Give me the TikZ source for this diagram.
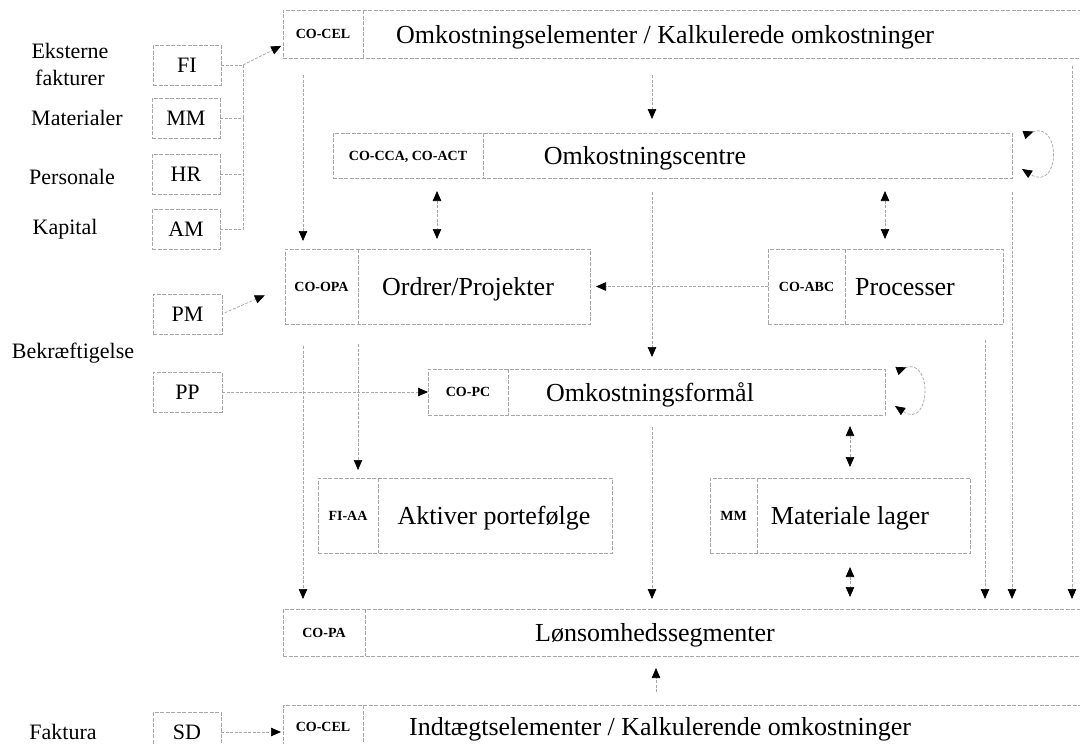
\documentclass[tikz,border=0pt]{standalone}
\usepackage{fontspec}
\setmainfont{Liberation Serif}
\usetikzlibrary{arrows.meta}
\newcommand{\sapbox}[9]{%
  \node[boxst, minimum width={#4-#2}, minimum height={#5-#3}, anchor=north west] (#1) at (#2,#3) {};
  \draw[divst] (#6,#3) -- (#6,#5);
  \node[code] (#1-code) at ({(#2+#6)/2},{(#3+#5)/2+4.5}) {#7};
  \node[title] (#1-title) at (#9,{(#3+#5)/2+9}) {#8};
}
\begin{document}
\begin{tikzpicture}[x=1pt,y=-1pt,
  boxst/.style={rectangle, draw=gray!70, line width=0.7pt, dash pattern=on 4pt off 1.5pt, inner sep=0pt, outer sep=0pt},
  divst/.style={draw=gray!70, line width=0.6pt, dash pattern=on 4pt off 1.5pt},
  ln/.style={draw=gray!70, line width=0.7pt, dash pattern=on 3pt off 1.5pt},
  arr/.style={ln, -{Triangle[length=10pt,width=8.5pt,color=black]}},
  darr/.style={ln, {Triangle[length=10pt,width=8.5pt,color=black]}-{Triangle[length=10pt,width=8.5pt,color=black]}},
  loopst/.style={ln, {Triangle[reversed,length=10pt,width=8.5pt,color=black]}-{Triangle[length=10pt,width=8.5pt,color=black]}},
  code/.style={font=\fontsize{14}{14}\selectfont\bfseries, inner sep=0pt, anchor=base},
  title/.style={font=\fontsize{26}{28}\selectfont, inner sep=0pt, anchor=base},
  lab/.style={font=\fontsize{22}{27}\selectfont, inner sep=0pt, align=center},
  sbox/.style={boxst, anchor=north west, minimum width=68pt, minimum height=40pt, font=\fontsize{22}{24}\selectfont},
]
\clip (0,0) rectangle (1080,744);
\path[use as bounding box] (0,0) rectangle (1080,744);

% x positions of vertical connectors
\coordinate (bus) at (243,0);
\coordinate (x303) at (303,0);
\coordinate (x358) at (358,0);
\coordinate (x437) at (437,0);
\coordinate (x652) at (652,0);
\coordinate (x656) at (656,0);
\coordinate (x850) at (850,0);
\coordinate (x885) at (885,0);
\coordinate (x985) at (985,0);
\coordinate (x1012) at (1012,0);
\coordinate (x1072) at (1072,0);

% main boxes
\sapbox{cel}{283}{10}{1090}{58}{363}{CO-CEL}{Omkostningselementer / Kalkulerede omkostninger}{665}
\sapbox{cc}{333}{133}{1012}{178}{483}{CO-CCA, CO-ACT}{Omkostningscentre}{645}
\sapbox{ord}{285}{249}{590}{324}{358}{CO-OPA}{Ordrer/Projekter}{468}
\sapbox{proc}{768}{249}{1003}{324}{845}{CO-ABC}{Processer}{905}
\sapbox{pc}{428}{369}{885}{415}{508}{CO-PC}{Omkostningsformål}{650}
\sapbox{aa}{318}{478}{612}{553}{378}{FI-AA}{Aktiver portefølge}{494}
\sapbox{mm}{710}{478}{970}{553}{757}{MM}{Materiale lager}{850}
\sapbox{pa}{283}{609}{1090}{656}{365}{CO-PA}{Lønsomhedssegmenter}{655}
\sapbox{inc}{283}{705}{1090}{748}{363}{CO-CEL}{Indtægtselementer / Kalkulerende omkostninger}{660}

% small source boxes
\node[sbox] (fi) at (153,45) {FI};
\node[sbox] (mmb) at (152,98) {MM};
\node[sbox] (hr) at (152,154) {HR};
\node[sbox] (am) at (152,209) {AM};
\node[sbox, minimum width=69pt] (pm) at (153,294) {PM};
\node[sbox, minimum width=69pt] (pp) at (153,372) {PP};
\node[sbox, minimum height=40pt] (sd) at (153,712) {SD};

% left labels
\node[lab] (l-ext) at (70,64) {Eksterne\\fakturer};
\node[lab] (l-mat) at (77,118) {Materialer};
\node[lab] (l-per) at (72,177) {Personale};
\node[lab] (l-kap) at (65,229) {Kapital};
\node[lab] (l-bek) at (73,353) {Bekræftigelse};
\node[lab] (l-fak) at (63,732) {Faktura};

% bus from the sources
\draw[ln] (fi.east) -- (fi.east -| bus);
\draw[ln] (mmb.east) -- (mmb.east -| bus);
\draw[ln] (hr.east) -- (hr.east -| bus);
\draw[ln] (am.east) -- (am.east -| bus);
\draw[ln] (fi.east -| bus) -- (am.east -| bus);
\draw[arr, shorten >=2pt] (fi.east -| bus) -- (cel.west |- fi.north);

\draw[arr, shorten <=3pt, shorten >=22pt] (pm.east) -- (ord.west);
\draw[arr] (pp.east) -- (pc.west);
\draw[arr, shorten >=2pt] (sd.east) -- (sd.east -| inc.west);
\draw[arr, shorten >=6pt] (proc.west) -- (proc.west -| ord.east);

% vertical connectors
\draw[arr, shorten <=17pt, shorten >=8pt] (cel.south -| x303) -- (ord.north -| x303);
\draw[arr, shorten <=17pt, shorten >=14pt] (cel.south -| x652) -- (cc.north -| x652);
\draw[darr, shorten <=13pt, shorten >=10pt] (cc.south -| x437) -- (ord.north -| x437);
\draw[darr, shorten <=13pt, shorten >=10pt] (cc.south -| x885) -- (proc.north -| x885);
\draw[arr, shorten <=14pt, shorten >=12pt] (cc.south -| x652) -- (pc.north -| x652);
\draw[arr, shorten <=22pt, shorten >=10pt] (ord.south -| x303) -- (pa.north -| x303);
\draw[arr, shorten <=20pt, shorten >=8pt] (ord.south -| x358) -- (aa.north -| x358);
\draw[arr, shorten <=12pt, shorten >=10pt] (pc.south -| x652) -- (pa.north -| x652);
\draw[darr, shorten <=11pt, shorten >=11pt] (pc.south -| x850) -- (mm.north -| x850);
\draw[darr, shorten <=14pt, shorten >=12pt] (mm.south -| x850) -- (pa.north -| x850);
\draw[arr, shorten <=16pt, shorten >=10pt] (proc.south -| x985) -- (pa.north -| x985);
\draw[arr, shorten <=14pt, shorten >=10pt] (cc.south -| x1012) -- (pa.north -| x1012);
\draw[arr, shorten <=8pt, shorten >=10pt] (cel.south -| x1072) -- (pa.north -| x1072);
\draw[arr, shorten <=13pt, shorten >=12pt] (inc.north -| x656) -- (pa.south -| x656);

% self loops
\draw[loopst] ([shift={(12,2)}]cc.north east) .. controls +(38,-14) and +(38,24) .. ([shift={(10,-9)}]cc.south east);
\draw[loopst] ([shift={(12,2)}]pc.north east) .. controls +(36,-14) and +(36,24) .. ([shift={(10,-9)}]pc.south east);
\end{tikzpicture}
\end{document}
